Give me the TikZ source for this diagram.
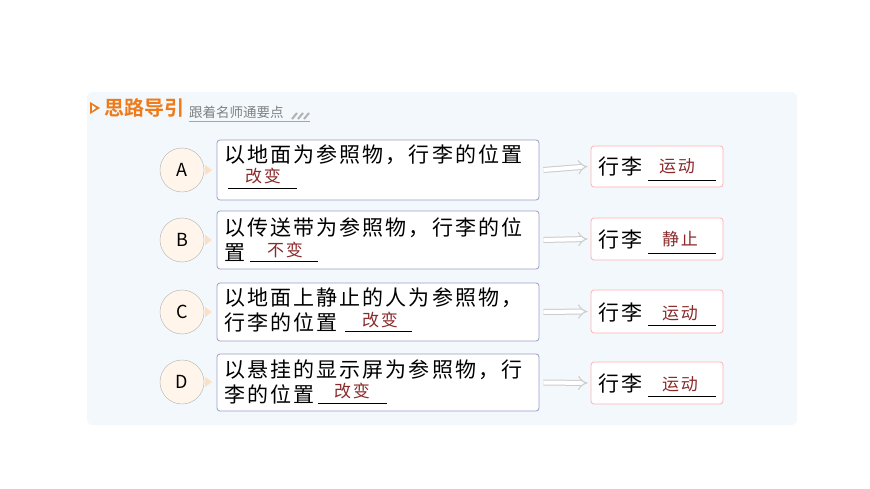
\documentclass[tikz,border=0pt]{standalone}
\usepackage{fontspec}
\setmainfont{Noto Sans CJK SC}
\newfontfamily\cjk[LetterSpace=10]{Noto Sans CJK SC}
\newfontfamily\cjkb{Noto Sans CJK SC Bold}
\usetikzlibrary{arrows.meta}
\definecolor{panel}{HTML}{F2F8FC}
\definecolor{orng}{HTML}{EE7A1A}
\definecolor{ans}{HTML}{8B2A2A}
\tikzset{
 lbox/.style={draw=gray!70!blue!60, rounded corners=3pt, line width=0.8pt, fill=white},
 rbox/.style={draw=red!30, rounded corners=3pt, line width=0.8pt, fill=white},
 circ/.style={circle, draw=gray!60, fill=orange!8, minimum size=44pt, inner sep=0pt, font=\fontsize{18}{18}\selectfont},
 txt/.style={anchor=west, inner sep=0pt, font=\cjk\fontsize{21}{21}\selectfont},
 answ/.style={inner sep=0pt, text=ans, font=\cjk\fontsize{17}{17}\selectfont},
 uline/.style={line width=0.9pt, black},
 conn/.style={double=white, double distance=4pt, line width=1pt, draw=gray!40, -{Implies}},
}
\begin{document}
\begin{tikzpicture}[x=1pt,y=-1pt]
\useasboundingbox (0,0) rectangle (870,489);
\fill[white] (0,0) rectangle (870,489);
\fill[panel, rounded corners=6pt] (87,92) rectangle (797,425);
% header
\fill[orng] (90,102) -- (100,108) -- (90,114) -- cycle;
\fill[white] (92,105) -- (96,108) -- (92,111) -- cycle;
\node[anchor=west, inner sep=0pt, text=orng, font=\cjkb\fontsize{20}{20}\selectfont] (h1) at (104,108) {思路导引};
\node[anchor=west, inner sep=0pt, text=gray, font=\fontsize{13.5}{13.5}\selectfont] (h2) at (189,112) {跟着名师通要点};
\draw[gray!70, line width=0.8pt] (189,121) -- (310,121);
\foreach \x in {292,298,304} \draw[gray!60, line width=2pt] (\x,119) -- (\x+5,113);
% rows
\foreach \n/\y in {A/170,B/240,C/312,D/382}{
  \node[circ] (c\n) at (182,\y) {\n};
  \fill[orange!25] (205,\y-5) -- (212,\y) -- (205,\y+5) -- cycle;
}
\node[lbox, minimum width=322pt, minimum height=60pt] (lA) at (378,170) {};
\node[lbox, minimum width=322pt, minimum height=58pt] (lB) at (378,240) {};
\node[lbox, minimum width=322pt, minimum height=58pt] (lC) at (378,312) {};
\node[lbox, minimum width=322pt, minimum height=57pt] (lD) at (378,382.5) {};
\node[rbox, minimum width=132pt, minimum height=41pt] (rA) at (657,166.5) {};
\node[rbox, minimum width=132pt, minimum height=42pt] (rB) at (657,239) {};
\node[rbox, minimum width=132pt, minimum height=43pt] (rC) at (657,311.5) {};
\node[rbox, minimum width=132pt, minimum height=42pt] (rD) at (657,383) {};
\foreach \n in {A,B,C,D}{
  \draw[conn] ([xshift=4pt]l\n.east) -- ([xshift=-3pt]r\n.west);
}
% A
\node[txt] (a1) at (224,155) {以地面为参照物，行李的位置};
\draw[uline] (228,188) -- (297,188);
\node[answ] (a2) at (263,176) {改变};
% B
\node[txt] (b1) at (224,228) {以传送带为参照物，行李的位};
\node[txt] (b2) at (224,253) {置};
\draw[uline] (250,261) -- (318,261);
\node[answ] (b3) at (285,250) {不变};
% C
\node[txt] (c1) at (224,298) {以地面上静止的人为参照物，};
\node[txt] (c2) at (224,322) {行李的位置};
\draw[uline] (345,331) -- (412,331);
\node[answ] (c3) at (380,320) {改变};
% D
\node[txt] (d1) at (224,370) {以悬挂的显示屏为参照物，行};
\node[txt] (d2) at (224,394) {李的位置};
\draw[uline] (318,403) -- (387,403);
\node[answ] (d3) at (352,391) {改变};
% right
\node[txt] (tA) at (598,167) {行李};
\draw[uline] (648,180) -- (716,180);
\node[answ] (wA) at (677,166) {运动};
\node[txt] (tB) at (598,240) {行李};
\draw[uline] (648,253) -- (716,253);
\node[answ] (wB) at (680,239) {静止};
\node[txt] (tC) at (598,313) {行李};
\draw[uline] (648,325) -- (716,325);
\node[answ] (wC) at (680,313) {运动};
\node[txt] (tD) at (598,384) {行李};
\draw[uline] (648,396) -- (716,396);
\node[answ] (wD) at (680,384) {运动};
\end{tikzpicture}
\end{document}
